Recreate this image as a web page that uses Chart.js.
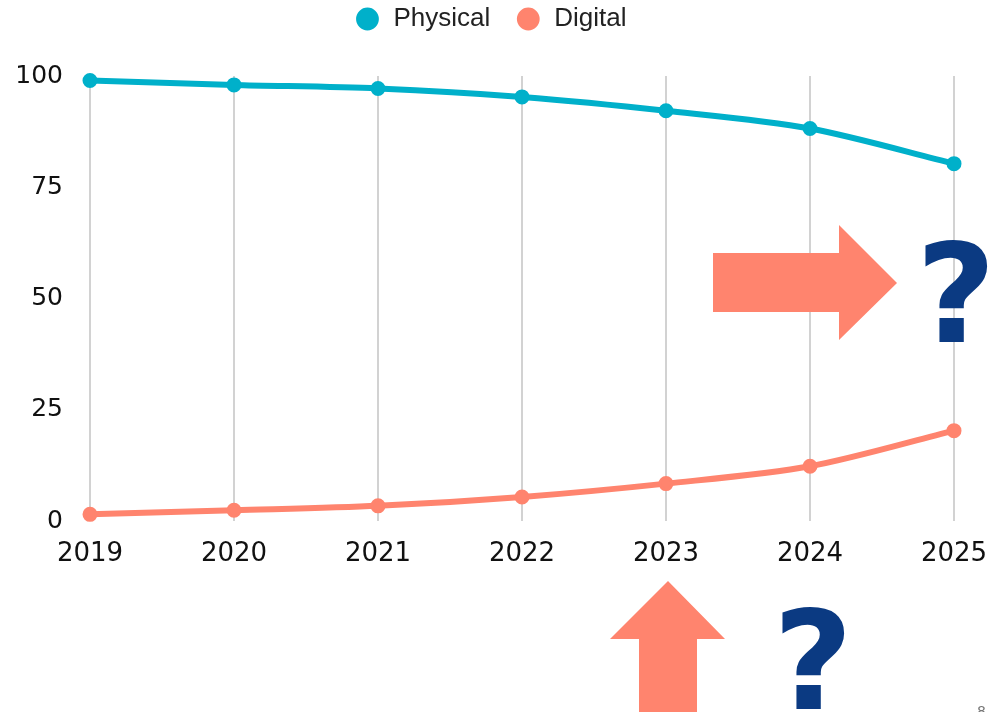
<!DOCTYPE html>
<html>
<head>
<meta charset="utf-8">
<script src="https://cdn.jsdelivr.net/npm/chart.js@4/dist/chart.umd.min.js"></script>
<style>
  html, body { margin: 0; padding: 0; background: #fff; }
  #wrap { position: relative; width: 994px; height: 712px; overflow: hidden; }
</style>
</head>
<body>
<div id="wrap"><canvas id="c" width="994" height="712"></canvas></div>
<script>
// Data
const years = ["2019", "2020", "2021", "2022", "2023", "2024", "2025"];
const physical = [99, 98, 97.2, 95.3, 92.2, 88.2, 80.3];
const digital = [1.5, 2.4, 3.4, 5.4, 8.4, 12.3, 20.3];
const yTicks = [0, 25, 50, 75, 100];

const teal = "#00b0ca";
const coral = "#ff846e";
const navy = "#0b3a82";

// Keep the legend pinned to the top of the page, away from the plot
const legendToTop = {
  id: "legendToTop",
  afterLayout(chart) {
    const lg = chart.legend;
    if (!lg) return;
    const h = lg.height;
    lg.top = -19;
    lg.bottom = lg.top + h;
  },
};

// Decorations: arrows, question marks, page number
const decorations = {
  id: "decorations",
  afterDraw(chart) {
    const ctx = chart.ctx;
    ctx.save();
    ctx.fillStyle = coral;
    // horizontal arrow
    ctx.beginPath();
    ctx.moveTo(713, 253);
    ctx.lineTo(839, 253);
    ctx.lineTo(839, 225);
    ctx.lineTo(897, 283);
    ctx.lineTo(839, 340);
    ctx.lineTo(839, 312);
    ctx.lineTo(713, 312);
    ctx.closePath();
    ctx.fill();
    // vertical arrow
    ctx.beginPath();
    ctx.moveTo(668, 581);
    ctx.lineTo(725, 639);
    ctx.lineTo(697, 639);
    ctx.lineTo(697, 712);
    ctx.lineTo(639, 712);
    ctx.lineTo(639, 639);
    ctx.lineTo(610, 639);
    ctx.closePath();
    ctx.fill();

    ctx.fillStyle = navy;
    ctx.font = "bold 138px 'DejaVu Sans'";
    ctx.textAlign = "left";
    ctx.textBaseline = "alphabetic";
    ctx.fillText("?", 916, 342);
    ctx.fillText("?", 773, 709);

    ctx.fillStyle = "#777";
    ctx.font = "14px 'DejaVu Sans'";
    ctx.fillText("8", 977, 716);
    ctx.restore();
  },
};

new Chart(document.getElementById("c"), {
  type: "line",
  data: {
    labels: years,
    datasets: [
      {
        label: "Physical",
        data: physical,
        borderColor: teal,
        backgroundColor: teal,
        borderWidth: 6,
        pointRadius: 6,
        pointBorderWidth: 3,
        tension: 0.3,
        clip: false,
      },
      {
        label: "Digital",
        data: digital,
        borderColor: coral,
        backgroundColor: coral,
        borderWidth: 6,
        pointRadius: 6,
        pointBorderWidth: 3,
        tension: 0.3,
        clip: false,
      },
    ],
  },
  options: {
    responsive: false,
    animation: false,
    layout: { padding: { top: -18, left: 0, right: 13, bottom: 0 } },
    scales: {
      x: {
        grid: {
          display: true,
          color: "#d2d2d2",
          lineWidth: 2,
          drawTicks: true,
          tickLength: 18,
          tickColor: "rgba(0,0,0,0)",
        },
        border: { display: false },
        ticks: {
          color: "#111",
          font: { family: "'DejaVu Sans'", size: 26 },
          padding: 0,
          maxRotation: 0,
          autoSkip: false,
        },
        afterFit: (scale) => { scale.height = 191; },
      },
      y: {
        min: 0,
        max: 100,
        afterBuildTicks: (scale) => { scale.ticks = yTicks.map((v) => ({ value: v })); },
        grid: { display: false, drawTicks: false },
        border: { display: false },
        ticks: {
          color: "#111",
          font: { family: "'DejaVu Sans'", size: 25 },
          padding: 27,
        },
        afterFit: (scale) => {
          scale.width = 90;
          scale.paddingTop = 76; // keeps the plot top near y = 74
        },
      },
      // empty right-hand spacer so the chart area ends at the 2025 column
      y2: {
        position: "right",
        min: 0,
        max: 100,
        grid: { display: false, drawTicks: false },
        border: { display: false },
        ticks: { display: false },
        afterFit: (scale) => { scale.width = 27; },
      },
    },
    plugins: {
      legend: {
        position: "top",
        labels: {
          usePointStyle: true,
          pointStyle: "circle",
          boxWidth: 26,
          boxHeight: 14,
          padding: 25,
          color: "#222",
          font: { family: "'Liberation Sans'", size: 26 },
        },
      },
      tooltip: { enabled: false },
    },
  },
  plugins: [legendToTop, decorations],
});
</script>
</body>
</html>
